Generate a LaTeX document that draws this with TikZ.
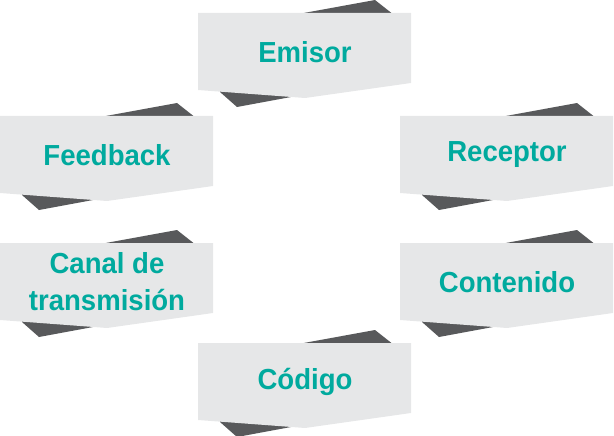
\documentclass[tikz,border=0pt]{standalone}
\usepackage{fontspec}
\newfontfamily\lab[BoldFeatures={FakeStretch=0.95}]{Liberation Sans}
\definecolor{lightbox}{HTML}{E6E7E8}
\definecolor{darkband}{HTML}{58595B}
\definecolor{tealtext}{HTML}{00AA9E}
\tikzset{
  lbl/.style={text=tealtext, font=\lab\bfseries\fontsize{29}{37}\selectfont, align=center, inner sep=0pt},
  bandfill/.style={fill=darkband},
  boxfill/.style={fill=lightbox}
}
\newcommand\mybanner[4]{%
  \begin{scope}[shift={#1}]
    \fill[bandfill] (177,-13) -- (196,2) -- (120,79) -- (39,94) -- (22,79) -- (22,70) -- (40,12) -- cycle;
    \fill[boxfill] (0,0) -- (213,0) -- (213,70) -- (107,85) -- (0,77) -- cycle;
    \node[lbl] (#2) at (107,39) {#3};
  \end{scope}}
\begin{document}
\begin{tikzpicture}[x=1pt,y=-1pt]
  \useasboundingbox (0,0) rectangle (614,436);
  \mybanner{(198,13)}{emisor}{Emisor}{}
  \mybanner{(0,116)}{feedback}{Feedback}{}
  \mybanner{(400,116)}{receptor}{Receptor}{}
  \mybanner{(0,243)}{canal}{Canal de\\transmisión}{}
  \mybanner{(400,243)}{contenido}{Contenido}{}
  \mybanner{(198,343)}{codigo}{Código}{}
\end{tikzpicture}
\end{document}
